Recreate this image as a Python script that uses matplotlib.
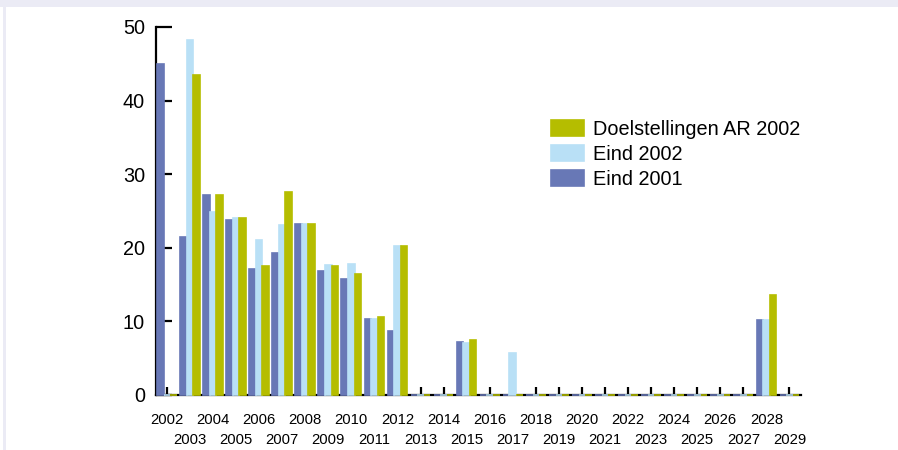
import matplotlib
matplotlib.use("Agg")
import matplotlib.pyplot as plt
from matplotlib.patches import Rectangle
from matplotlib.ticker import FixedLocator
import numpy as np

plt.rcParams['font.family'] = ['Liberation Sans', 'DejaVu Sans']

years = list(range(2002, 2030))
eind2001 = [45.0, 21.4, 27.2, 23.8, 17.1, 19.3, 23.2, 16.9, 15.8, 10.3, 8.75,
            0, 0, 7.25, 0, 0, 0, 0, 0, 0, 0, 0, 0, 0, 0, 0, 10.25, 0]
eind2002 = [0, 48.2, 24.8, 24.0, 21.1, 23.1, 23.2, 17.6, 17.8, 10.3, 20.3,
            0, 0, 7.0, 0, 5.7, 0, 0, 0, 0, 0, 0, 0, 0, 0, 0, 10.25, 0]
doel2002 = [0, 43.5, 27.2, 24.0, 17.5, 27.6, 23.2, 17.5, 16.5, 10.65, 20.2,
            0, 0, 7.5, 0, 0, 0, 0, 0, 0, 0, 0, 0, 0, 0, 0, 13.65, 0]
series_labels = ['Eind 2001', 'Eind 2002', 'Doelstellingen AR 2002']
colors = ['#6878b6', '#b9e0f6', '#b5bd00']

W, H = 898, 450
fig = plt.figure(figsize=(W / 100, H / 100), dpi=100)
fig.patch.set_facecolor('white')
# lavender frame strips
fig.patches.append(Rectangle((0, 1 - 7 / H), 1, 7 / H, transform=fig.transFigure,
                             facecolor='#ebebf5', edgecolor='none', zorder=0))
fig.patches.append(Rectangle((3 / W, 0), 3 / W, 1, transform=fig.transFigure,
                             facecolor='#ebebf5', edgecolor='none', zorder=0))

ax = fig.add_axes([156 / W, 55 / H, 645 / W, 368 / H])
ax.set_facecolor('white')

x = np.arange(len(years))
bw = 0.285
handles = []
for i, (vals, lab, col) in enumerate(zip([eind2001, eind2002, doel2002], series_labels, colors)):
    b = ax.bar(x + (i - 1) * bw, vals, width=bw, color=col, edgecolor=col,
               linewidth=1.2, label=lab, zorder=3, clip_on=False)
    handles.append(b)

ax.set_xlim(-0.47, 27.5)
ax.set_ylim(0, 50)

for s in ['top', 'right']:
    ax.spines[s].set_visible(False)
for s in ['left', 'bottom']:
    ax.spines[s].set_linewidth(1.6)
    ax.spines[s].set_color('black')

ax.set_yticks([0, 10, 20, 30, 40, 50])
ax.tick_params(axis='y', direction='in', length=11.5, width=1.6, pad=8,
               labelsize=14.3, colors='black')

even = [i for i in x if years[i] % 2 == 0]
odd = [i for i in x if years[i] % 2 == 1]
ax.xaxis.set_major_locator(FixedLocator(even))
ax.xaxis.set_minor_locator(FixedLocator(odd))
ax.set_xticklabels([str(years[i]) for i in even])
ax.set_xticklabels([str(years[i]) for i in odd], minor=True)
ax.tick_params(axis='x', which='major', direction='in', length=6, width=1.6,
               pad=13, labelsize=10.7)
ax.tick_params(axis='x', which='minor', direction='in', length=6, width=1.6,
               pad=27.5, labelsize=10.7)

leg = ax.legend([h[0] for h in handles[::-1]], series_labels[::-1], loc='upper left',
                bbox_to_anchor=((551 - 156) / 645, 1 - (120 - 27) / 368),
                frameon=False, fontsize=14.3, handlelength=1.66, handleheight=0.86,
                labelspacing=0.3, handletextpad=0.45, borderaxespad=0, borderpad=0)

fig.savefig('out.png', dpi=100, facecolor=fig.get_facecolor())
